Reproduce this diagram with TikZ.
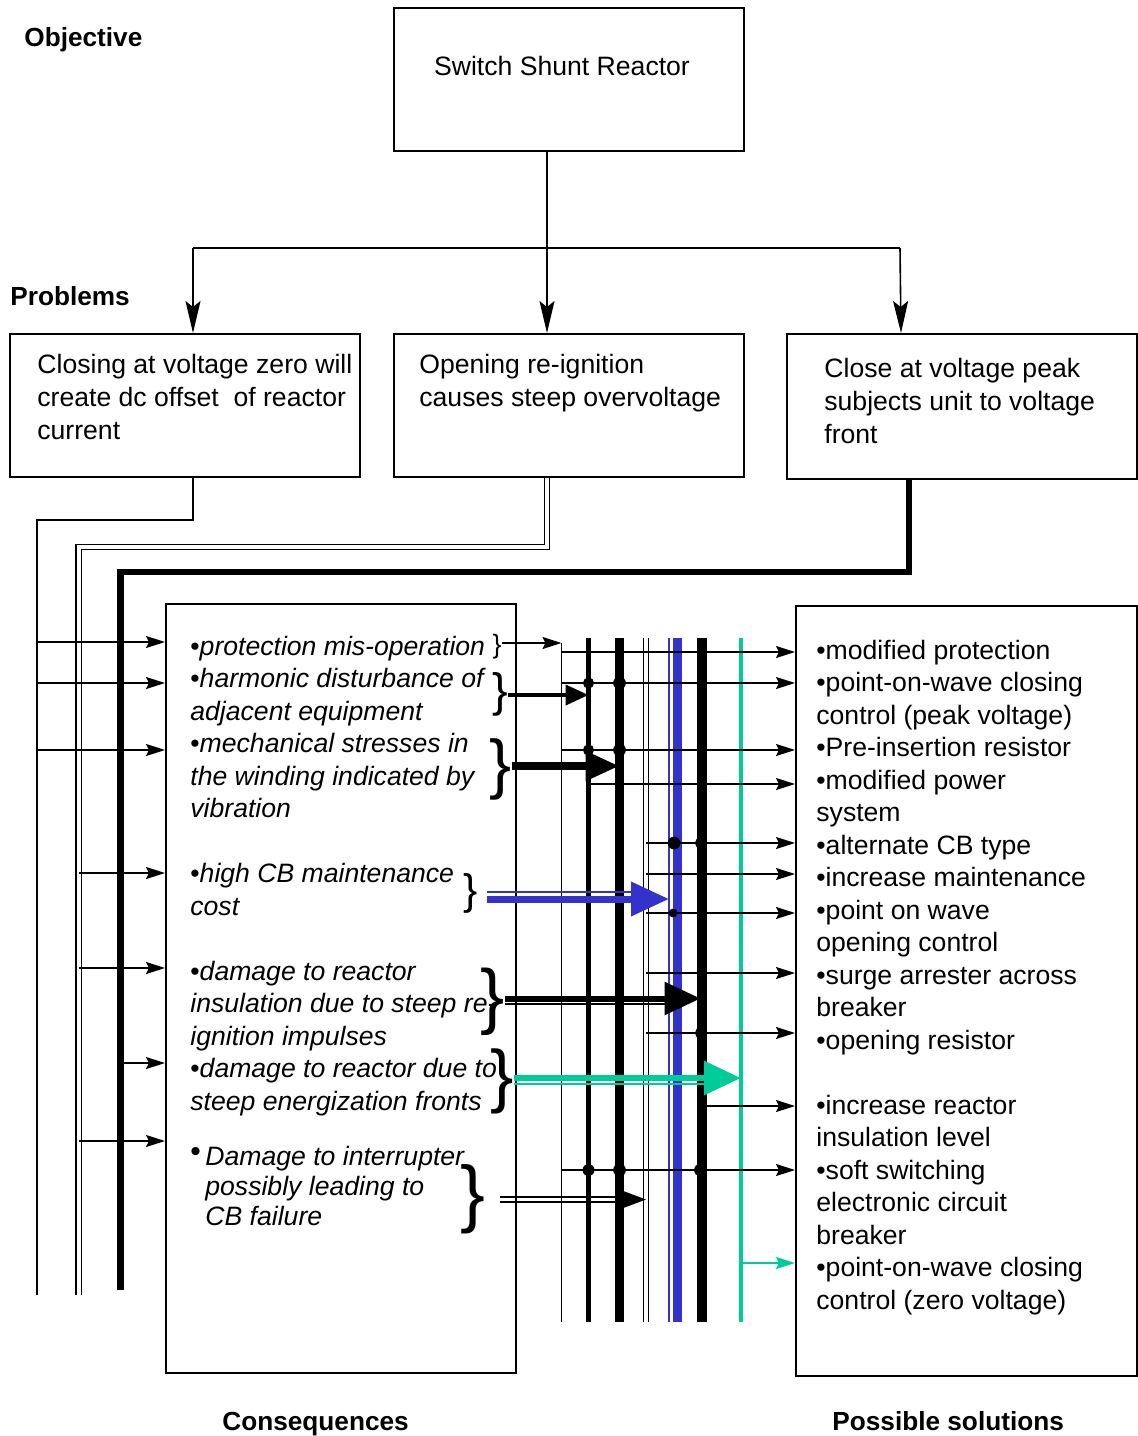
\documentclass[tikz,border=0pt]{standalone}
\usepackage{fontspec}
\setmainfont{Liberation Sans}
\usetikzlibrary{arrows.meta}
\definecolor{busblue}{RGB}{51,51,204}
\definecolor{busgreen}{RGB}{0,204,153}
\tikzset{
	box/.style={draw, line width=0.9pt, inner sep=0, anchor=north west},
	txt/.style={inner sep=0, align=left, font=\fontsize{13.3}{16.25}\selectfont},
	head/.style={inner sep=0, anchor=base west, font=\bfseries\fontsize{13.1}{15}\selectfont},
	brace/.style={inner sep=0},
	wire/.style={line width=0.8pt},
	tip/.style={-{Stealth[length=9.5pt,width=6pt,inset=1.5pt]}},
	bigtip/.style={-{Stealth[length=16pt,width=7.5pt,inset=3pt]}}
}
\begin{document}
\begin{tikzpicture}[x=0.5pt,y=-0.5pt]
	\useasboundingbox (0,0) rectangle (1137,1436);
	\node[box, minimum width=175pt, minimum height=71.5pt] (obj) at (393,7) {};
	\node[box, minimum width=175pt, minimum height=71.5pt] (p1) at (9,333) {};
	\node[box, minimum width=175pt, minimum height=71.5pt] (p2) at (393,333) {};
	\node[box, minimum width=175pt, minimum height=72.5pt] (p3) at (786,333) {};
	\node[box, minimum width=175pt, minimum height=384.5pt] (cons) at (165,603) {};
	\node[box, minimum width=170.5pt, minimum height=385pt] (sol) at (795,605) {};

	\node[head] (objective) at (24,46) {Objective};
	\node[head] (problems) at (10,305) {Problems};
	\node[head] (conseq) at (222,1430) {Consequences};
	\node[head] (solhead) at (832,1430) {Possible solutions};

	\node[txt, anchor=base] (objtxt) at (562,75) {Switch Shunt Reactor};
	\node[txt, anchor=north west, font=\fontsize{13.3}{16.5}\selectfont] (p1txt) at (37,350) {\strut Closing at voltage zero will\\create dc offset~ of reactor\\current};
	\node[txt, anchor=north west, font=\fontsize{13.3}{16.5}\selectfont] (p2txt) at (419,350) {\strut Opening re-ignition\\causes steep overvoltage};
	\node[txt, anchor=north west, font=\fontsize{13.3}{16.5}\selectfont] (p3txt) at (824,353.9) {\strut Close at voltage peak\\subjects unit to voltage\\front};

	\node[txt, anchor=north west] (constxt) at (190,632.25) {\strut •\textit{protection mis-operation}\\
		•\textit{harmonic disturbance of}\\
		\textit{adjacent equipment}\\
		•\textit{mechanical stresses in}\\
		\textit{the winding indicated by}\\
		\textit{vibration}\\[16.25pt]
		•\textit{high CB maintenance}\\
		\textit{cost}\\[16.25pt]
		•\textit{damage to reactor}\\
		\textit{insulation due to steep re-}\\
		\textit{ignition impulses}\\
		•\textit{damage to reactor due to}\\
		\textit{steep energization fronts}};
	\node[txt, anchor=base west, font=\fontsize{15}{15}\selectfont] (dmgbul) at (190,1161) {•};
	\node[txt, anchor=north west, font=\fontsize{13.3}{15}\selectfont] (dmgtxt) at (205,1144) {\strut\textit{Damage to interrupter}\\\textit{possibly leading to}\\\textit{CB failure}};

	\node[txt, anchor=north west] (soltxt) at (816,636.25) {\strut •modified protection\\
		•point-on-wave closing\\
		control (peak voltage)\\
		•Pre-insertion resistor\\
		•modified power\\
		system\\
		•alternate CB type\\
		•increase maintenance\\
		•point on wave\\
		opening control\\
		•surge arrester across\\
		breaker\\
		•opening resistor\\[16.25pt]
		•increase reactor\\
		insulation level\\
		•soft switching\\
		electronic circuit\\
		breaker\\
		•point-on-wave closing\\
		control (zero voltage)};

	\node[brace, font=\fontsize{13.3}{13.3}\selectfont] (brA) at (497,647) {\}};
	\node[brace, font=\fontsize{23.4}{23.4}\selectfont] (brB) at (500,694) {\}};
	\node[brace, font=\fontsize{33}{33}\selectfont] (brC) at (501,769) {\}};
	\node[brace, font=\fontsize{21.3}{21.3}\selectfont] (brD) at (471,893) {\}};
	\node[brace, font=\fontsize{36.2}{36.2}\selectfont] (brE) at (493,1002) {\}};
	\node[brace, font=\fontsize{35}{35}\selectfont] (brF) at (502,1081) {\}};
	\node[brace, font=\fontsize{37.2}{37.2}\selectfont] (brG) at (473,1199) {\}};

	\draw[wire] (obj.south -| 547,0) -- (547,248);
	\draw[wire] (193,248) -- (900,248);
	\draw[wire, bigtip] (547,248) -- (p2.north -| 547,0);
	\draw[wire, bigtip] (193,248) -- (p1.north -| 193,0);
	\draw[wire, bigtip] (900,248) -- (p3.north -| 901,0);

	\coordinate (feedA) at (37,520);
	\coordinate (feedB) at (78.8,547);
	\coordinate (feedC) at (120.3,572);
	\draw[wire] (p1.south -| 193,0) |- (feedA) -- (feedA |- 0,1295);
	\draw[wire, double, double distance=1.8pt] (p2.south -| 547,0) |- (feedB) -- (feedB |- 0,1295);
	\draw[line width=3.25pt] (p3.south -| 909,0) |- (feedC) -- (feedC |- 0,1290);

	\foreach \y/\f in {642/feedA, 683/feedA, 750/feedA, 873/feedB, 968/feedB, 1063/feedC, 1141/feedB}
		\draw[wire, tip] (\f |- 0,\y) -- (cons.west |- 0,\y);

	\coordinate (busbot) at (0,1322);
	\coordinate (busA) at (561.5,643);
	\coordinate (busB) at (588.5,638);
	\coordinate (busC) at (619.5,638);
	\coordinate (busD) at (646,638);
	\coordinate (busEx) at (669,638);
	\coordinate (busE) at (677.5,638);
	\coordinate (busF) at (700.5,638);
	\coordinate (busFx) at (706,638);
	\coordinate (busG) at (741,638);
	\draw[wire] (busA) -- (busA |- busbot);
	\draw[line width=2.5pt] (busB) -- (busB |- busbot);
	\draw[line width=4.5pt] (busC) -- (busC |- busbot);
	\draw[wire, double, double distance=1.8pt] (busD) -- (busD |- busbot);
	\draw[wire, busblue] (busEx) -- (busEx |- busbot);
	\draw[line width=4.5pt, busblue] (busE) -- (busE |- busbot);
	\draw[line width=4pt] (busF) -- (busF |- busbot);
	\draw[wire] (busFx) -- (busFx |- busbot);
	\draw[line width=2pt, busgreen] (busG) -- (busG |- busbot);

	\draw[wire, tip] (brA.east |- 0,643) -- (busA);
	\draw[line width=2pt, -{Triangle[length=11.5pt,width=10pt]}] (brB.east |- 0,695) -- (busB |- 0,695);
	\draw[line width=4pt, -{Triangle[length=17pt,width=14pt]}] (brC.east |- 0,766) -- (busC |- 0,766);
	\draw[wire, busblue] (487,892) -- (640,892);
	\draw[line width=3.5pt, busblue, -{Triangle[length=19pt,width=16.5pt]}] (487,899) -- (busEx |- 0,899);
	\draw[wire] (brE.east |- 0,1004) -- (665,1004);
	\draw[line width=3pt, -{Triangle[length=18pt,width=16pt]}] (brE.east |- 0,998.5) -- (busF |- 0,998.5);
	\draw[wire, busgreen] (brF.east |- 0,1084) -- (705,1084);
	\draw[line width=3pt, busgreen, -{Triangle[length=18.5pt,width=16.5pt]}] (brF.east |- 0,1078) -- (busG |- 0,1078);
	\draw[wire] (500,1197) -- (625,1197);
	\draw[wire] (500,1202) -- (625,1202);
	\fill (622,1190.5) -- (busD |- 0,1199.5) -- (622,1208.5) -- cycle;

	\foreach \y/\b in {652/busA, 683/busA, 750/busA, 784/busB, 843/busD, 874/busD, 913/busD, 973/busD, 1033/busD, 1106/busFx, 1170/busA}
		\draw[wire, tip] (\b |- 0,\y) -- (sol.west |- 0,\y);
	\draw[wire, busgreen, tip] (busG |- 0,1263) -- (sol.west |- 0,1263);

	\fill (busB |- 0,683) circle (2.8pt);
	\fill (busC |- 0,683) circle (3.2pt);
	\fill (busB |- 0,750) circle (2.8pt);
	\fill (busC |- 0,750) circle (3.2pt);
	\fill (674,843) circle (3.2pt);
	\fill (busF |- 0,843) circle (2.8pt);
	\fill (673,913) circle (2.2pt);
	\fill (busF |- 0,1033) circle (2.8pt);
	\fill (busB |- 0,1170) circle (3pt);
	\fill (busC |- 0,1170) circle (3.2pt);
	\fill (busF |- 0,1170) circle (3.2pt);
\end{tikzpicture}
\end{document}
